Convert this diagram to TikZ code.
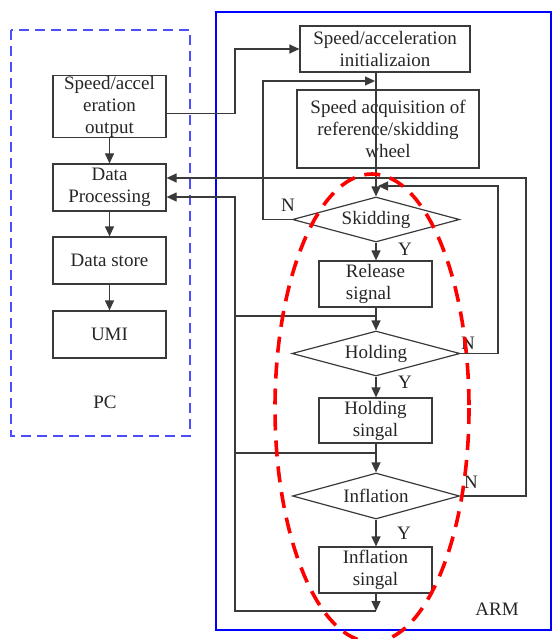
\documentclass[tikz,border=0pt]{standalone}
\usepackage{fontspec}
\setmainfont{Liberation Serif}
\usetikzlibrary{shapes.geometric,arrows.meta}
\definecolor{ln}{HTML}{3A3A3A}
\definecolor{pcblue}{HTML}{4D4DFF}
\begin{document}
\begin{tikzpicture}[x=1pt,y=-1pt,
  every node/.style={font=\rmfamily\fontsize{19}{22}\selectfont, text=black!85},
  box/.style={draw=ln, line width=1.2pt, rectangle, inner sep=0pt, align=center},
  dia/.style={draw=ln, line width=1.2pt, diamond, inner sep=0pt, aspect=3.7},
  conn/.style={draw=ln, line width=1.2pt},
  arr/.style={conn, -{Triangle[length=10pt,width=9pt]}},
  lbl/.style={inner sep=0pt}
]
\useasboundingbox (0,0) rectangle (552,639);
% frames
\draw[pcblue, line width=1.3pt, dash pattern=on 10pt off 6pt] (11,30) rectangle (190,436);
\draw[blue, line width=1.2pt] (216,12) rectangle (551,630);
% PC side
\node[box, minimum width=113pt, minimum height=61pt] (out) at (109.5,106.5) {Speed/accel\\eration\\output};
\node[box, minimum width=113pt, minimum height=47pt] (dp) at (109.5,187.5) {Data\\Processing};
\node[box, minimum width=113pt, minimum height=47pt] (ds) at (109.5,260.5) {Data store};
\node[box, minimum width=113pt, minimum height=47pt] (umi) at (109.5,334.5) {UMI};
\node[lbl] (pc) at (105,402) {PC};
% ARM side
\node[box, minimum width=170pt, minimum height=46pt] (init) at (385,49) {Speed/acceleration\\initializaion};
\node[box, minimum width=182pt, minimum height=78pt] (acq) at (388,129) {Speed acquisition of\\reference/skidding\\wheel};
\node[dia, minimum width=167pt, minimum height=45pt] (skid) at (376,219.5) {Skidding};
\node[box, minimum width=113pt, minimum height=46pt, align=left] (rel) at (375.5,284) {Release\\signal};
\node[dia, minimum width=168pt, minimum height=45pt] (hold) at (376,353.5) {Holding};
\node[box, minimum width=113pt, minimum height=45pt] (hsig) at (375.5,420.5) {Holding\\singal};
\node[dia, minimum width=167pt, minimum height=46pt] (infl) at (376,496) {Inflation};
\node[box, minimum width=113pt, minimum height=46pt] (isig) at (375.5,570) {Inflation\\singal};
\node[lbl] (arm) at (497,609) {ARM};
% labels
\node[lbl] (n1) at (288,205) {N};
\node[lbl] (y1) at (405,249) {Y};
\node[lbl] (n2) at (468,343) {N};
\node[lbl] (y2) at (405,382) {Y};
\node[lbl] (n3) at (471,482) {N};
\node[lbl] (y3) at (404,533) {Y};
% coordinates
\coordinate (j1) at (376,81);
\coordinate (j3) at (378,186);
\coordinate (b3) at (376,611);
\coordinate (c1) at (376,316);
\coordinate (c2) at (376,453);
% PC connectors
\draw[arr] (out) -- (dp);
\draw[arr] (dp) -- (ds);
\draw[arr] (ds) -- (umi);
% output to init
\draw[arr] ([yshift=-7pt]out.east) -- (235,113.5) |- (init.west);
% init to acq
\draw[conn] (init.south -| skid.north) -- (acq.south -| skid.north |- acq.north);
\draw[arr] (acq.south -| skid.north) -- (skid.north);
% skidding N loop
\draw[arr] (skid.west) -- (263,219.5) |- ([xshift=-1pt]j1);
% main chain
\draw[arr] (skid.south) -- (rel.north -| skid.south);
\draw[arr] (rel.south -| skid.south) -- (hold.north);
\draw[arr] (hold.south) -- (hsig.north -| hold.south);
\draw[arr] (hsig.south -| hold.south) -- (infl.north);
\draw[arr] (infl.south) -- (isig.north -| infl.south);
\draw[arr] (isig.south -| infl.south) -- (b3);
% collector to Data Processing
\draw[arr] (b3) -- (235,611) -- (235,197) -- ([yshift=-9.5pt]dp.east);
\draw[conn] (235,316) -- (c1);
\draw[conn] (235,453) -- (c2);
% holding N loop
\draw[arr] (hold.east) -- (498,353.5) |- (j3);
% inflation N loop
\draw[arr] (infl.east) -- (526,496) |- ([yshift=9.5pt]dp.east);
% red ellipse
\draw[red, line width=3.6pt, dash pattern=on 16pt off 10pt] (372,408) ellipse [x radius=97, y radius=234];
\end{tikzpicture}
\end{document}
